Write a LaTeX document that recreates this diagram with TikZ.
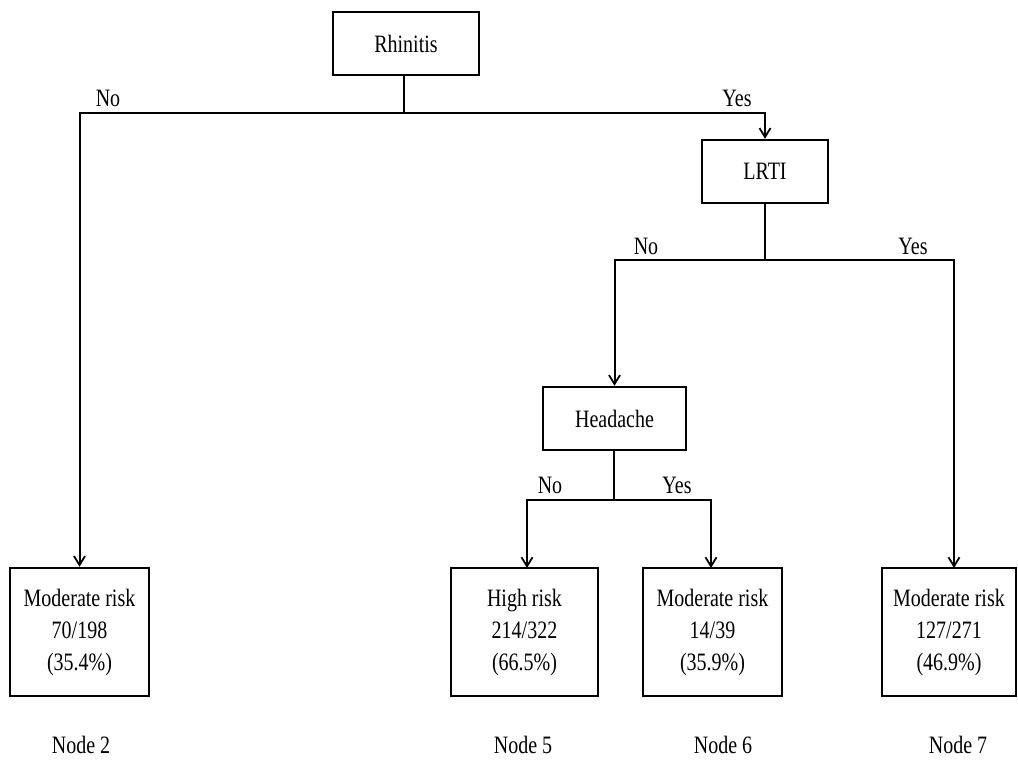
\documentclass[tikz,border=0pt]{standalone}
\usepackage{fontspec}
\setmainfont{Liberation Serif}[FakeStretch=0.8]
\usetikzlibrary{arrows.meta}
\begin{document}
\begin{tikzpicture}[x=1pt,y=-1pt,
  box/.style={draw, line width=2.4pt, inner sep=0pt, align=center,
    font=\fontsize{25}{32}\selectfont},
  lab/.style={inner sep=0pt, font=\fontsize{25}{28}\selectfont},
  edge/.style={line width=2pt},
  arr/.style={edge, -{Straight Barb[length=9pt,width=11pt,line width=1.8pt]}}]
\useasboundingbox (0,0) rectangle (1018,760);

% split nodes
\node[box, minimum width=146pt, minimum height=63pt] (rh) at (406,43.5) {Rhinitis};
\node[box, minimum width=126pt, minimum height=63pt] (lrti) at (765,171.5) {LRTI};
\node[box, minimum width=143pt, minimum height=63pt] (hd) at (614.5,418.5) {Headache};

% terminal nodes
\node[box, minimum width=139pt, minimum height=128pt] (n2) at (79.5,632) {Moderate risk\\70/198\\(35.4\%)};
\node[box, minimum width=147pt, minimum height=128pt] (n5) at (524.5,632) {High risk\\214/322\\(66.5\%)};
\node[box, minimum width=139pt, minimum height=128pt] (n6) at (712.5,632) {Moderate risk\\14/39\\(35.9\%)};
\node[box, minimum width=134pt, minimum height=128pt] (n7) at (949,632) {Moderate risk\\127/271\\(46.9\%)};

% junction points
\coordinate (j1) at (404,113);
\coordinate (j2) at (765,260);
\coordinate (j3) at (614,500);

% Rhinitis split
\draw[edge] (rh.south -| j1) -- (j1);
\draw[arr] (j1) -| (n2.north);
\draw[arr] (j1) -| (lrti.north);
\node[lab] (rno) at (108,98) {No};
\node[lab] (ryes) at (737,98) {Yes};

% LRTI split
\draw[edge] (lrti.south) -- (j2);
\draw[arr] (j2) -| (hd.north);
\draw[arr] (j2) -| (954,568);
\node[lab] (lno) at (646,246) {No};
\node[lab] (lyes) at (913,246) {Yes};

% Headache split
\draw[edge] (hd.south -| j3) -- (j3);
\draw[arr] (j3) -| (527,568);
\draw[arr] (j3) -| (711,568);
\node[lab] (hno) at (550,485) {No};
\node[lab] (hyes) at (677,485) {Yes};

% node labels
\node[lab] (l2) at (81,745) {Node 2};
\node[lab] (l5) at (523,745) {Node 5};
\node[lab] (l6) at (723,745) {Node 6};
\node[lab] (l7) at (958,745) {Node 7};
\end{tikzpicture}
\end{document}
